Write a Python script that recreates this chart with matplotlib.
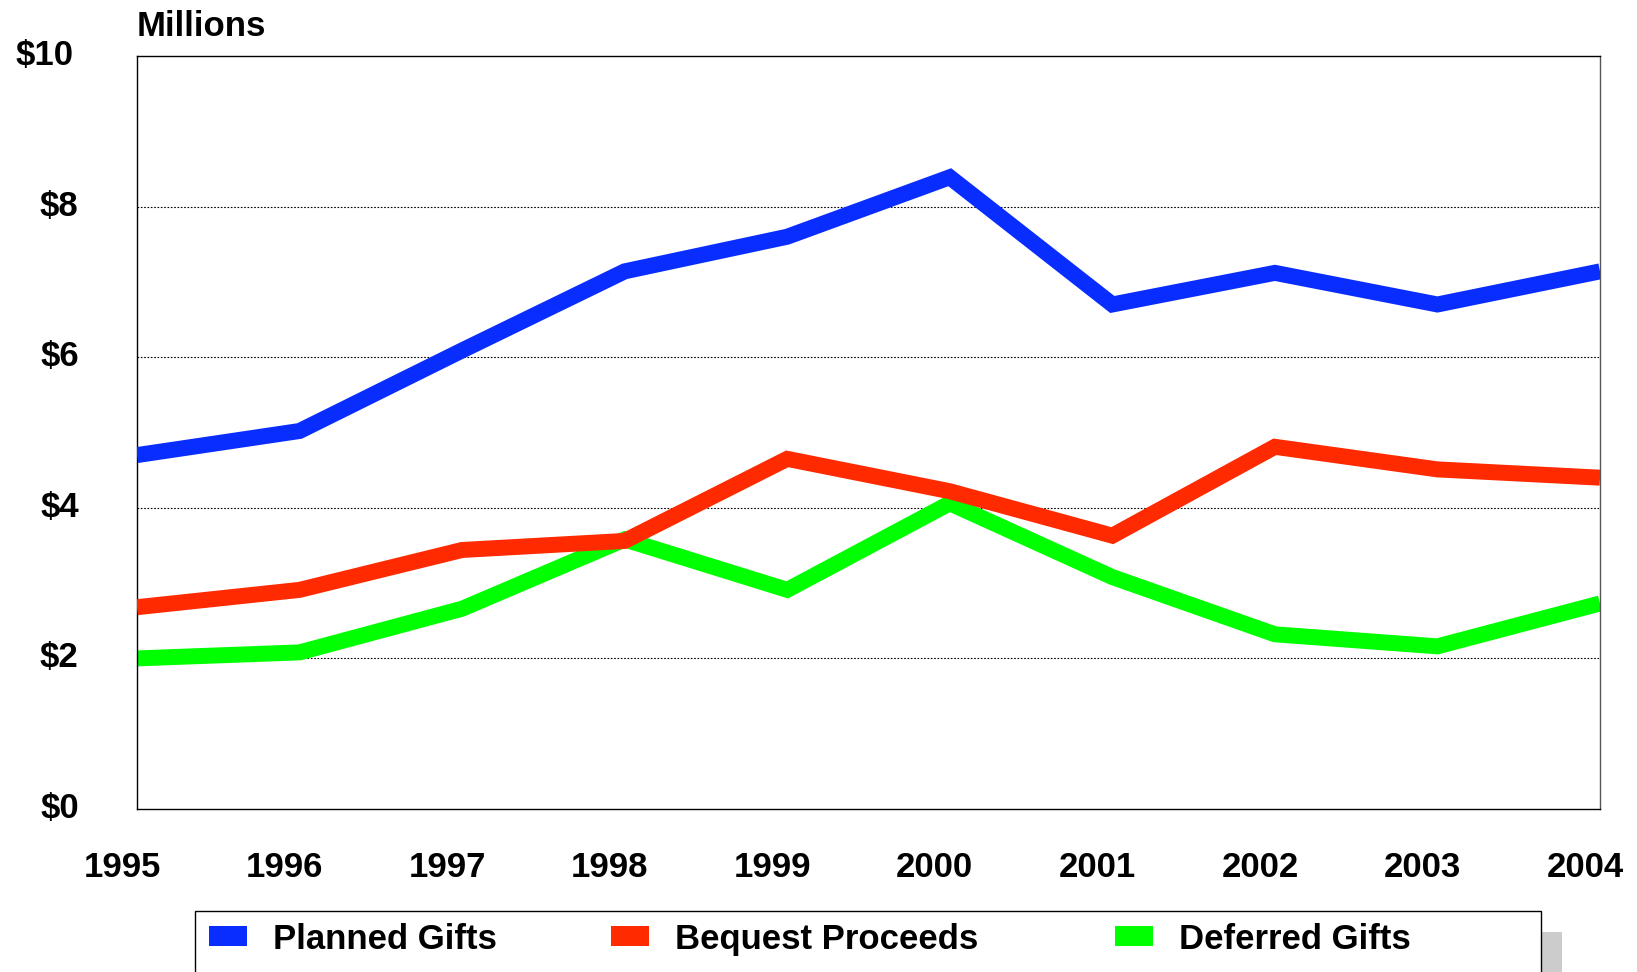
import matplotlib
matplotlib.use('Agg')
import matplotlib.pyplot as plt
from matplotlib.patches import Rectangle
from matplotlib.transforms import ScaledTranslation

plt.rcParams['font.family'] = ['Liberation Sans', 'DejaVu Sans']
plt.rcParams['font.weight'] = 'bold'

years = [1995, 1996, 1997, 1998, 1999, 2000, 2001, 2002, 2003, 2004]
planned_gifts = [4.70, 5.02, 6.09, 7.14, 7.60, 8.39, 6.70, 7.12, 6.70, 7.14]
bequest_proceeds = [2.68, 2.91, 3.44, 3.56, 4.65, 4.22, 3.63, 4.81, 4.51, 4.40]
deferred_gifts = [2.00, 2.08, 2.66, 3.58, 2.91, 4.06, 3.08, 2.32, 2.16, 2.73]
y_ticks = [0, 2, 4, 6, 8, 10]
y_labels = ['$0', '$2', '$4', '$6', '$8', '$10']

W, H = 1637, 972
FS = 25
fig = plt.figure(figsize=(W / 100, H / 100), dpi=100)
ax = fig.add_axes([137 / W, 1 - 809 / H, (1600 - 137) / W, (809 - 56) / H])

series = [
    ('Planned Gifts', planned_gifts, '#0a2dff', 4),
    ('Bequest Proceeds', bequest_proceeds, '#ff2a00', 3),
    ('Deferred Gifts', deferred_gifts, '#00ff00', 2),
]
for name, vals, col, z in series:
    ax.plot(years, vals, color=col, lw=11.5, solid_joinstyle='miter',
            solid_capstyle='butt', label=name, zorder=z)

ax.set_xlim(1995, 2004)
ax.set_ylim(0, 10)
ax.set_yticks(y_ticks)
ax.set_yticklabels(y_labels)
ax.set_xticks(years)
ax.set_xticklabels([str(y) for y in years])
ax.tick_params(axis='both', length=0, labelsize=FS)
ax.tick_params(axis='y', pad=42)
ax.tick_params(axis='x', pad=30)
dpi_t = fig.dpi_scale_trans
for lbl in ax.get_xticklabels():
    lbl.set_fontweight('bold')
    lbl.set_transform(lbl.get_transform() + ScaledTranslation(-0.15, 0, dpi_t))
ylbls = ax.get_yticklabels()
for lbl in ylbls:
    lbl.set_fontweight('bold')
    lbl.set_transform(lbl.get_transform() + ScaledTranslation(0, 0.04, dpi_t))
ylbls[-1].set_transform(ylbls[-1].get_transform() + ScaledTranslation(-0.05, 0, dpi_t))
for y in y_ticks[1:-1]:
    ax.axhline(y, color='black', lw=0.8, ls=(0, (1.5, 1.5)), zorder=1)
for s in ax.spines.values():
    s.set_color('black')
    s.set_linewidth(1.0)
ax.spines['right'].set_color('#555555')

fig.text(137 / W, 1 - 26 / H, 'Millions', fontsize=FS, fontweight='bold',
         ha='left', va='center')

# legend box (cut off at the bottom) with gray shadow
fig.patches.append(Rectangle((1541 / W, -0.05), 21 / W, (0.05 + 1 - 932 / H),
                             transform=fig.transFigure, facecolor='#cccccc',
                             edgecolor='none', zorder=0))
fig.patches.append(Rectangle((195 / W, -0.05), (1541 - 195) / W, (0.05 + 1 - 911 / H),
                             transform=fig.transFigure, facecolor='white',
                             edgecolor='black', lw=1.0, zorder=1))

legend_x = [209, 611, 1115]
for (name, _, col, _), lx in zip(series, legend_x):
    h = Rectangle((0, 0), 1, 1, facecolor=col, edgecolor='none')
    fig.legend([h], [name], frameon=False,
               loc='center left', bbox_to_anchor=(lx / W, 1 - 939 / H),
               prop={'weight': 'bold', 'size': FS},
               handlelength=1.1, handleheight=0.52, handletextpad=0.75,
               borderpad=0, borderaxespad=0)

fig.savefig('out.png', dpi=100)
